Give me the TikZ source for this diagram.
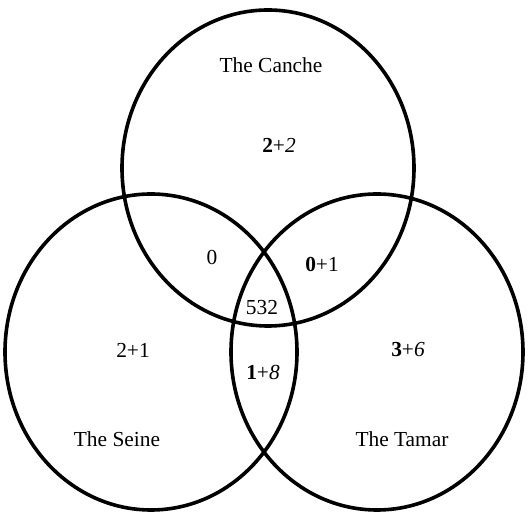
\documentclass[tikz,border=0pt]{standalone}
\usepackage{fontspec}
\setmainfont{Liberation Serif}
\usepackage{tikz}
\usetikzlibrary{positioning}

\begin{document}
\begin{tikzpicture}[
  x=0.5pt, y=-0.5pt,
  font=\fontsize{10.7}{12}\selectfont,
  ring/.style={draw, line width=1.8pt, x radius=146, y radius=158},
  lbl/.style={inner sep=0pt, anchor=center},
]
\useasboundingbox (0,0) rectangle (532,513);

%% ── The three rivers ──────────────────────────────────────────────────────
\coordinate (canche) at (268, 168);
\coordinate (seine)  at (151, 352);
\coordinate (tamar)  at (377, 352);

\draw[ring] (canche) ellipse [];
\draw[ring] (seine)  ellipse [];
\draw[ring] (tamar)  ellipse [];

%% ── Names ─────────────────────────────────────────────────────────────────
\node[lbl] (ncanche) at (271,  65) {The Canche};
\node[lbl] (nseine)  at (117, 439) {The Seine};
\node[lbl] (ntamar)  at (402, 439) {The Tamar};

%% ── Counts ────────────────────────────────────────────────────────────────
\node[lbl] (conly)  at (279, 145) {\textbf{2}+\textit{2}};
\node[lbl] (cs)     at (212, 257) {0};
\node[lbl] (ct)     at (322, 264) {\textbf{0}+1};
\node[lbl] (all)    at (262, 308) {532};
\node[lbl] (sonly)  at (133, 350) {2+1};
\node[lbl] (st)     at (263, 372) {\textbf{1}+\textit{8}};
\node[lbl] (tonly)  at (408, 350) {\textbf{3}+\textit{6}};

\end{tikzpicture}
\end{document}
